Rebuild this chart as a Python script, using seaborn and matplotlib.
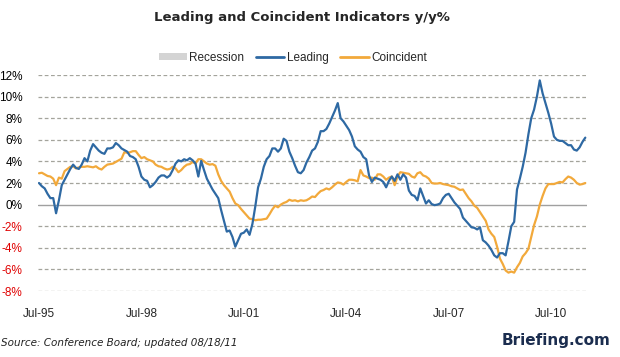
import numpy as np
import pandas as pd
import seaborn as sns
import matplotlib.pyplot as plt
from matplotlib.lines import Line2D
from matplotlib.patches import Patch

# Monthly data, Jul-1995 .. Jul-2011 (y/y %)
leading = [
    2.0, 1.7, 1.5, 1.0, 0.6, 0.6, -0.8, 0.4, 1.8, 2.3, 2.8, 3.3,
    3.7, 3.4, 3.3, 3.7, 4.3, 4.0, 5.0, 5.6, 5.3, 5.0, 4.8, 4.7,
    5.2, 5.2, 5.3, 5.7, 5.5, 5.2, 5.05, 4.9, 4.5, 4.4, 4.2, 3.5,
    2.6, 2.3, 2.2, 1.6, 1.8, 2.1, 2.5, 2.7, 2.7, 2.5, 2.7, 3.2,
    3.8, 4.1, 4.0, 4.2, 4.1, 4.3, 4.1, 3.8, 2.6, 4.05, 3.2, 2.4,
    1.9, 1.4, 1.0, 0.6, -0.5, -1.5, -2.5, -2.4, -3.0, -3.9, -3.3, -2.7,
    -2.6, -2.3, -2.8, -1.8, -0.2, 1.6, 2.4, 3.5, 4.2, 4.5, 5.2, 5.2,
    4.9, 5.2, 6.1, 5.9, 4.9, 4.3, 3.6, 3.0, 2.9, 3.2, 3.9, 4.4,
    5.0, 5.2, 5.8, 6.8, 6.8, 7.0, 7.5, 8.1, 8.7, 9.4, 8.0, 7.7,
    7.3, 6.9, 6.3, 5.4, 5.1, 4.9, 4.4, 4.2, 2.7, 2.1, 2.5, 2.4,
    2.3, 2.1, 1.6, 2.2, 2.6, 2.2, 2.8, 2.3, 2.8, 2.5, 1.3, 0.9,
    0.8, 0.4, 1.5, 0.8, 0.1, 0.4, 0.05, -0.05, 0.0, 0.1, 0.6, 0.9,
    1.0, 0.6, 0.2, -0.1, -0.4, -1.2, -1.5, -1.8, -2.1, -2.15, -2.3, -2.1,
    -3.3, -3.5, -3.8, -4.2, -4.7, -4.9, -4.5, -4.5, -4.7, -3.4, -2.0, -1.6,
    1.4, 2.4, 3.5, 4.8, 6.5, 8.0, 8.8, 10.0, 11.5, 10.3, 9.4, 8.5,
    7.5, 6.3, 6.0, 5.9, 5.9, 5.7, 5.5, 5.5, 5.1, 5.0, 5.3, 5.8,
    6.2,
]
coincident = [
    2.9, 2.95, 2.8, 2.65, 2.6, 2.4, 1.8, 2.5, 2.4, 3.1, 3.3, 3.5,
    3.55, 3.35, 3.45, 3.5, 3.5, 3.55, 3.5, 3.45, 3.55, 3.35, 3.25, 3.5,
    3.7, 3.75, 3.8, 3.95, 4.1, 4.25, 4.85, 4.8, 4.85, 4.95, 4.95, 4.6,
    4.3, 4.4, 4.2, 4.1, 4.0, 3.7, 3.55, 3.5, 3.35, 3.25, 3.3, 3.5,
    3.35, 3.0, 3.2, 3.5, 3.7, 3.75, 3.95, 3.8, 4.2, 4.2, 4.0, 3.8,
    3.7, 3.75, 3.6, 2.8, 2.2, 1.8, 1.5, 1.2, 0.6, 0.1, -0.05, -0.4,
    -0.7, -1.0, -1.3, -1.35, -1.45, -1.4, -1.4, -1.35, -1.3, -0.9, -0.45, -0.1,
    -0.25, 0.0, 0.15, 0.25, 0.45, 0.35, 0.4, 0.3, 0.4, 0.35, 0.4, 0.55,
    0.75, 0.7, 1.0, 1.25, 1.35, 1.5, 1.4, 1.6, 1.85, 2.05, 2.0, 1.85,
    2.1, 2.3, 2.3, 2.25, 2.15, 3.2, 2.7, 2.6, 2.45, 2.5, 2.3, 2.8,
    2.8, 2.6, 2.3, 2.5, 2.6, 1.8, 2.6, 3.0, 2.95, 2.9, 2.85, 2.6,
    2.5, 2.9, 3.0, 2.7, 2.6, 2.4, 2.0, 1.95, 1.95, 2.0, 1.9, 1.85,
    1.8, 1.7, 1.65, 1.5, 1.35, 1.4, 1.0, 0.6, 0.3, -0.1, -0.3, -0.7,
    -1.1, -1.5, -2.3, -2.7, -3.0, -3.9, -5.0, -5.5, -6.1, -6.3, -6.2, -6.3,
    -5.8, -5.4, -4.8, -4.5, -4.1, -3.0, -1.9, -1.1, 0.0, 0.8, 1.5, 1.9,
    1.9, 1.9, 2.0, 2.1, 2.05, 2.35, 2.6, 2.5, 2.3, 2.0, 1.85, 1.9,
    2.0,
]
tick_labels = ['Jul-95', 'Jul-98', 'Jul-01', 'Jul-04', 'Jul-07', 'Jul-10']
y_ticks = [-8, -6, -4, -2, 0, 2, 4, 6, 8, 10, 12]

months = np.arange(len(leading))
df = pd.concat([
    pd.DataFrame({'month': months, 'value': leading, 'series': 'Leading'}),
    pd.DataFrame({'month': months, 'value': coincident, 'series': 'Coincident'}),
], ignore_index=True)

blue = '#2e69a3'
orange = '#f2a93b'

sns.set_theme(style='white')
plt.rcParams['font.family'] = ['Liberation Sans', 'DejaVu Sans']

fig = plt.figure(figsize=(6.2, 3.57), dpi=100)
ax = fig.add_axes([38 / 620, 1 - 291 / 357, 549 / 620, 216 / 357])

# сетка
for t in y_ticks:
    if t == 0:
        ax.axhline(t, color='#a0a0a0', lw=1.0, zorder=1)
    else:
        ax.axhline(t, color='#a4a49c', lw=0.9, ls=(0, (3, 2)), zorder=1)

sns.lineplot(data=df, x='month', y='value', hue='series',
             palette={'Leading': blue, 'Coincident': orange},
             hue_order=['Coincident', 'Leading'],
             lw=1.6, legend=False, ax=ax, zorder=3)

ax.set_xlim(-0.35, 192.6)
ax.set_ylim(-8, 12)
ax.set_xticks(np.arange(0, len(leading), 36))
ax.set_xticklabels(tick_labels, fontsize=8.5)
ax.set_yticks(y_ticks)
ax.set_yticklabels([f'{t}%' for t in y_ticks], fontsize=8.5)
for lab, t in zip(ax.get_yticklabels(), y_ticks):
    lab.set_color('#e00000' if t < 0 else 'black')
ax.tick_params(axis='y', length=0, pad=11)
ax.tick_params(axis='x', length=0, pad=12)
ax.set_xlabel('')
ax.set_ylabel('')
for s in ax.spines.values():
    s.set_visible(False)

fig.text(0.487, 0.952, 'Leading and Coincident Indicators y/y%',
         ha='center', va='center', fontsize=9.5, fontweight='bold',
         family='DejaVu Sans')

handles = [
    Patch(facecolor='#d4d4d4', edgecolor='none'),
    Line2D([0], [0], color=blue, lw=2),
    Line2D([0], [0], color=orange, lw=2),
]
fig.legend(handles, ['Recession', 'Leading', 'Coincident'], loc='center',
           bbox_to_anchor=(0.472, 0.838), ncol=3, frameon=False,
           fontsize=8.5, handlelength=2.4, handleheight=0.6,
           handletextpad=0.2, columnspacing=1.0)

fig.text(0.002, 0.04, 'Source: Conference Board; updated 08/18/11',
         ha='left', va='center', fontsize=7.5, style='italic',
         family='DejaVu Sans', color='#222222')
fig.text(0.985, 0.045, 'Briefing.com', ha='right', va='center', fontsize=11,
         fontweight='bold', color='#1b2d4f', family='DejaVu Sans')

fig.savefig('out.png', dpi=100)
